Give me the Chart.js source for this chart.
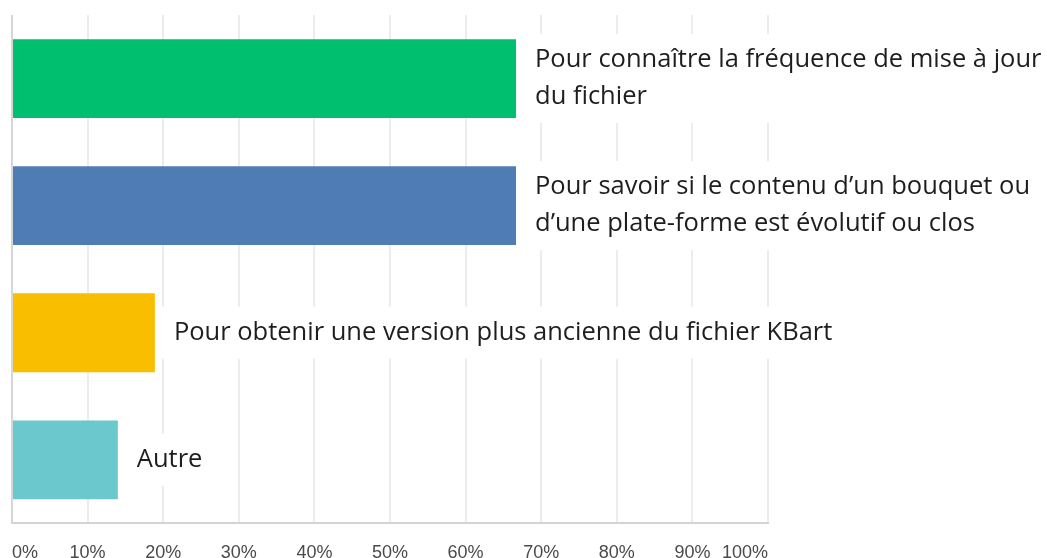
<!DOCTYPE html>
<html>
<head>
<meta charset="utf-8">
<script src="https://cdn.jsdelivr.net/npm/chart.js@4/dist/chart.umd.min.js"></script>
<style>
  html, body { margin: 0; padding: 0; background: #ffffff; overflow: hidden; }
  #wrap { position: absolute; left: 0; top: 0; width: 1047px; height: 583px; }
</style>
</head>
<body>
<div id="wrap"><canvas id="c" width="1047" height="583"></canvas></div>
<script>
const categories = [
  ["Pour connaître la fréquence de mise à jour", "du fichier"],
  ["Pour savoir si le contenu d’un bouquet ou", "d’une plate-forme est évolutif ou clos"],
  ["Pour obtenir une version plus ancienne du fichier KBart"],
  ["Autre"]
];
const values = [66.67, 66.67, 18.9, 14.0];
const barColors = ["#00BF6F", "#507CB6", "#F9BE00", "#6BC8CD"];
const tickLabels = ["0%", "10%", "20%", "30%", "40%", "50%", "60%", "70%", "80%", "90%", "100%"];

const labelFont = "25.5px 'Open Sans', 'Noto Sans', sans-serif";
const labelLineHeight = 37;
const labelGap = 19;

const barLabelPlugin = {
  id: 'barLabels',
  afterDatasetsDraw(chart) {
    const ctx = chart.ctx;
    const meta = chart.getDatasetMeta(0);
    ctx.save();
    ctx.font = labelFont;
    meta.data.forEach((bar, i) => {
      const lines = categories[i];
      const n = lines.length;
      let maxW = 0;
      lines.forEach(l => { maxW = Math.max(maxW, ctx.measureText(l).width); });
      const tx = bar.x + labelGap;
      const boxH = n * labelLineHeight + 15;
      ctx.fillStyle = '#ffffff';
      ctx.fillRect(bar.x + 1, bar.y - boxH / 2, tx - bar.x - 1 + maxW + 8, boxH);
      ctx.fillStyle = '#1e1e1e';
      ctx.textBaseline = 'middle';
      ctx.textAlign = 'left';
      lines.forEach((l, j) => {
        ctx.fillText(l, tx, bar.y + (j - (n - 1) / 2) * labelLineHeight);
      });
    });
    ctx.restore();
  }
};

new Chart(document.getElementById('c'), {
  type: 'bar',
  data: {
    labels: categories.map(c => c.join(' ')),
    datasets: [{
      data: values,
      backgroundColor: barColors,
      borderWidth: 0,
      categoryPercentage: 1.0,
      barPercentage: 0.62
    }]
  },
  options: {
    indexAxis: 'y',
    responsive: false,
    animation: false,
    devicePixelRatio: 1,
    layout: { padding: { left: 12, right: 279, top: 15, bottom: 0 } },
    plugins: {
      legend: { display: false },
      tooltip: { enabled: false },
      title: { display: false }
    },
    scales: {
      x: {
        min: 0,
        max: 100,
        afterFit: (scale) => { scale.paddingLeft = 0; scale.paddingRight = 0; },
        ticks: {
          stepSize: 10,
          align: 'inner',
          padding: 19,
          color: '#4a4a4a',
          font: { family: "'Liberation Sans', Arial, sans-serif", size: 18 },
          callback: (v, idx) => tickLabels[idx]
        },
        grid: {
          drawTicks: false,
          lineWidth: 2,
          color: ctx => ctx.index === 0 ? '#d6d6d6' : '#ececec'
        },
        border: { display: true, color: '#d4d4d4', width: 2 }
      },
      y: {
        display: false
      }
    }
  },
  plugins: [barLabelPlugin]
});
</script>
</body>
</html>
